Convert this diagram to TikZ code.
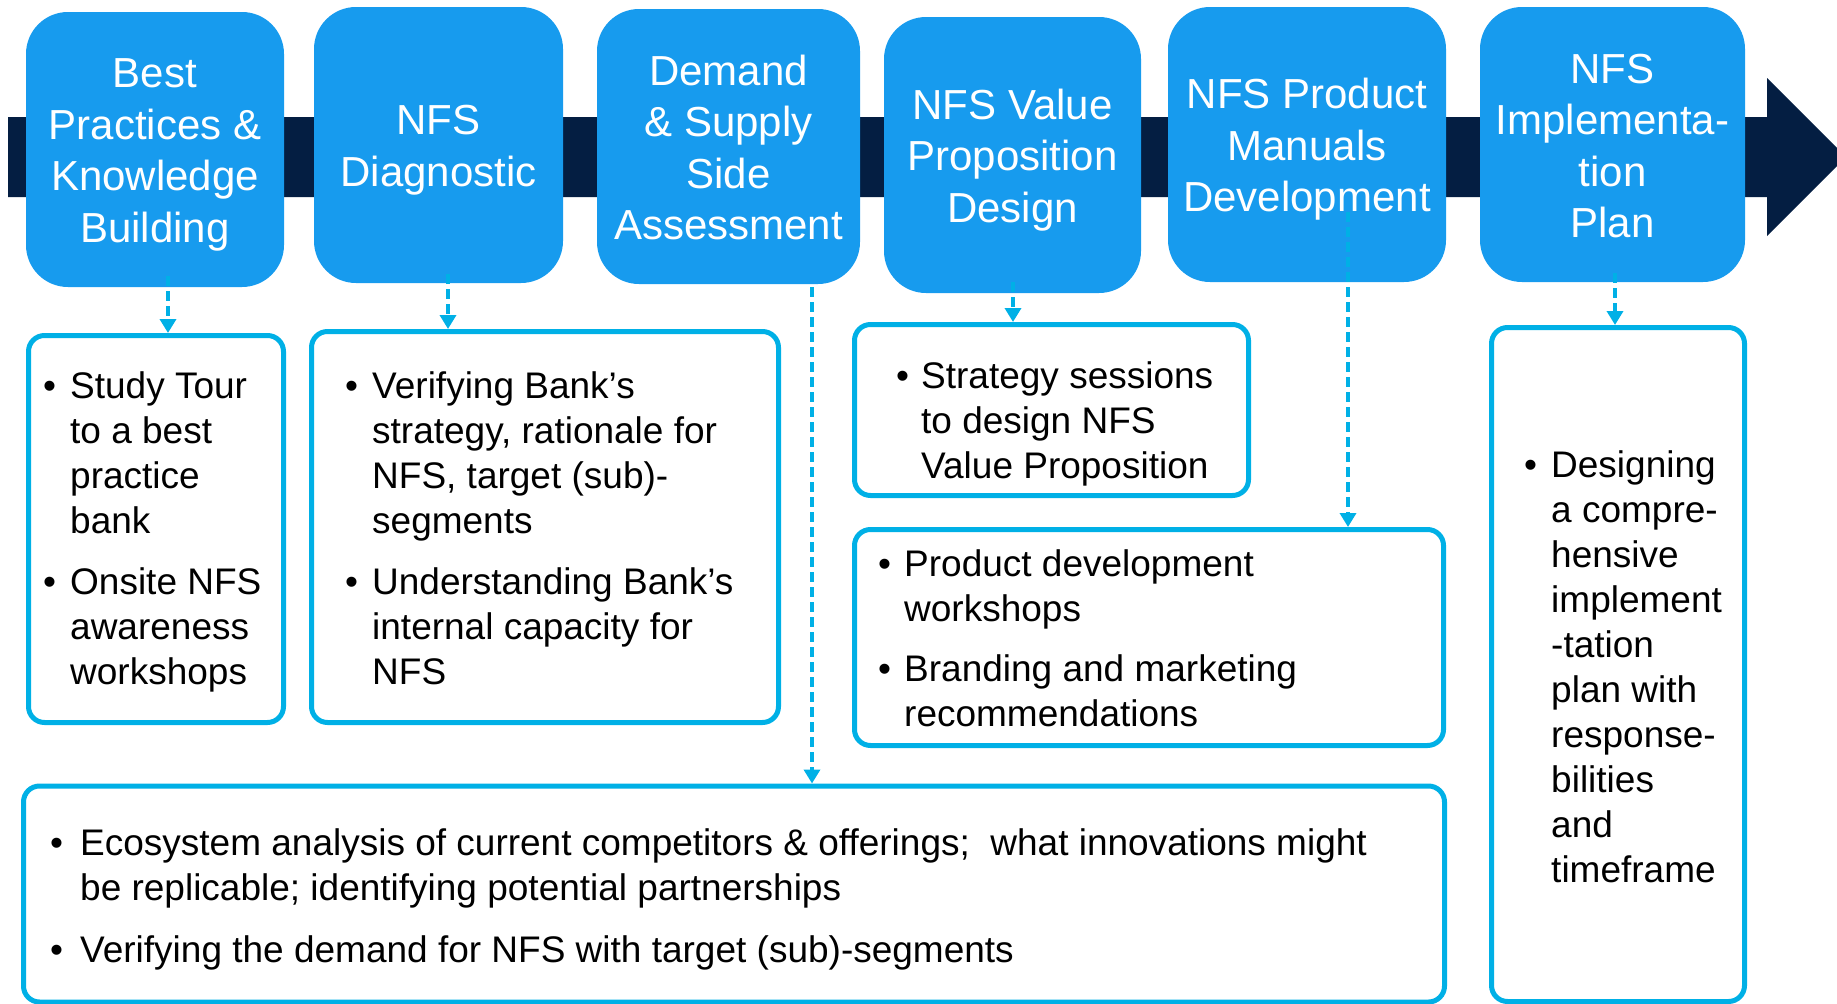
\documentclass[tikz,border=0pt]{standalone}
\usepackage{fontspec}
\setmainfont{Liberation Sans}
\usetikzlibrary{arrows.meta}
\definecolor{hdrblue}{RGB}{23,155,238}
\definecolor{boxcyan}{RGB}{0,176,230}
\definecolor{bandnavy}{RGB}{4,30,66}
\newcommand{\bl}[1][21pt]{\makebox[#1][l]{\hspace{-6pt}\textbullet}}
\newcommand{\hs}{\rule[-8.5pt]{0pt}{48.5pt}}
\begin{document}
\begin{tikzpicture}[x=1pt,y=-1pt,
  hdr/.style={fill=hdrblue, rounded corners=42pt, text=white, align=center,
    font=\fontsize{42}{51.5}\selectfont, inner sep=0pt},
  dbox/.style={draw=boxcyan, line width=5pt, rounded corners=16pt, fill=white, inner sep=0pt},
  txt/.style={anchor=base west, inner sep=0pt,
    font=\fontsize{37}{45}\selectfont, text=black},
  darr/.style={draw=boxcyan, line width=3.5pt, dash pattern=on 10pt off 5pt,
    -{Triangle[width=16pt,length=14pt]}}]
\path[use as bounding box] (0,0) rectangle (1837,1004);
\clip (0,0) rectangle (1837,1004);
% band arrow
\fill[bandnavy] (8,117) -- (1767,117) -- (1767,78) -- (1846,157) -- (1767,236) -- (1767,197) -- (8,197) -- cycle;
% header boxes
\node[hdr, minimum width=258pt, minimum height=275pt] (h1) at (155,149.5) {\hs Best\\Practices \&\\Knowledge\\\hs Building};
\node[hdr, minimum width=249pt, minimum height=276pt] (h2) at (438.5,145) {\hs NFS\\\hs Diagnostic};
\node[hdr, minimum width=263pt, minimum height=275pt] (h3) at (728.5,146.5) {\hs Demand\\\& Supply\\Side\\\hs Assessment};
\node[hdr, minimum width=257pt, minimum height=276pt] (h4) at (1012.5,155) {\hs NFS Value\\Proposition\\\hs Design};
\node[hdr, minimum width=278pt, minimum height=275pt] (h5) at (1307,144.5) {\hs NFS Product\\Manuals\\\hs Development};
\node[hdr, minimum width=265pt, minimum height=275pt] (h6) at (1612.5,144.5) {\hs NFS\\Implementa-\\tion\\\hs Plan};
% detail boxes
\node[dbox, minimum width=255pt, minimum height=387pt] (d1) at (156,529) {};
\node[dbox, minimum width=467pt, minimum height=391pt] (d2) at (545,527) {};
\node[dbox, minimum width=394pt, minimum height=171pt] (d3) at (1051.5,410) {};
\node[dbox, minimum width=589pt, minimum height=216pt] (d4) at (1149,637.5) {};
\node[dbox, minimum width=1421pt, minimum height=216pt] (d5) at (734,894) {};
\node[dbox, minimum width=253pt, minimum height=674pt] (d6) at (1618,664.5) {};
% texts
\node[txt] (t1) at (49,398) {\begin{tabular}[t]{@{}l@{}l@{}}
  \bl & Study Tour\\ & to a best\\ & practice\\ & bank\\[16pt]
  \bl & Onsite NFS\\ & awareness\\ & workshops
  \end{tabular}};
\node[txt] (t2) at (351,398) {\begin{tabular}[t]{@{}l@{}l@{}}
  \bl & Verifying Bank’s\\ & strategy, rationale for\\ & NFS, target (sub)-\\ & segments\\[16pt]
  \bl & Understanding Bank’s\\ & internal capacity for\\ & NFS
  \end{tabular}};
\node[txt] (t3) at (902,388) {\begin{tabular}[t]{@{}l@{}l@{}}
  \bl[19pt] & Strategy sessions\\ & to design NFS\\ & Value Proposition
  \end{tabular}};
\node[txt] (t4) at (884,576) {\begin{tabular}[t]{@{}l@{}l@{}}
  \bl[20pt] & Product development\\ & workshops\\[15pt]
  \bl[20pt] & Branding and marketing\\ & recommendations
  \end{tabular}};
\node[txt] (t5) at (56,855) {\begin{tabular}[t]{@{}l@{}l@{}}
  \bl[24pt] & Ecosystem analysis of current competitors \& offerings;\ \ what innovations might\\ & be replicable; identifying potential partnerships\\[17pt]
  \bl[24pt] & Verifying the demand for NFS with target (sub)-segments
  \end{tabular}};
\node[txt] (t6) at (1530,477) {\begin{tabular}[t]{@{}l@{}l@{}}
  \bl & Designing\\ & a compre-\\ & hensive\\ & implement\\ & -tation\\ & plan with\\ & response-\\ & bilities\\ & and\\ & timeframe
  \end{tabular}};
% connectors
\coordinate (a1) at (168,276);
\coordinate (a2) at (448,274);
\coordinate (a3) at (812,287);
\coordinate (a4) at (1013,282);
\coordinate (a5) at (1348,212);
\coordinate (a6) at (1615,273);
\draw[darr] (a1) -- (a1 |- d1.north);
\draw[darr] (a2) -- (a2 |- d2.north);
\draw[darr] (a3) -- (a3 |- d5.north);
\draw[darr] (a4) -- (a4 |- d3.north);
\draw[darr] (a5) -- (a5 |- d4.north);
\draw[darr] (a6) -- (a6 |- d6.north);
\end{tikzpicture}
\end{document}
